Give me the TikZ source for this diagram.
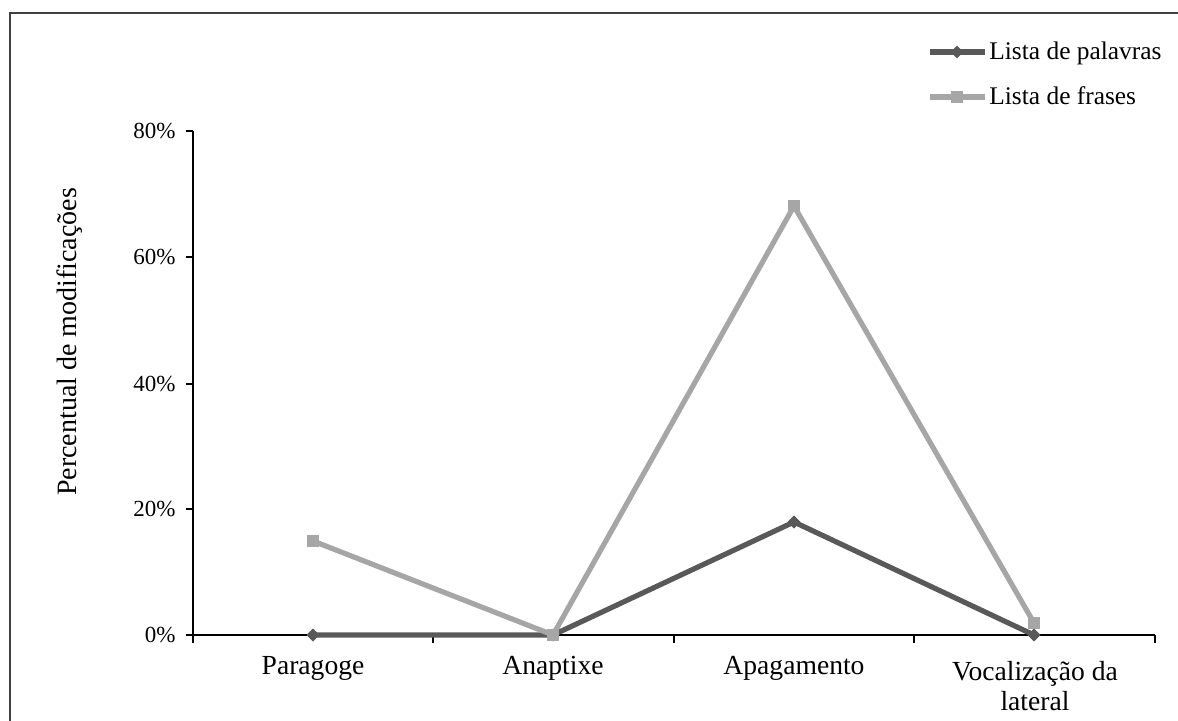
\documentclass[tikz,border=0pt]{standalone}
\usepackage{fontspec}
\setmainfont{Liberation Serif}
\usetikzlibrary{shapes.geometric}
\definecolor{seriedark}{HTML}{595959}
\definecolor{serielight}{HTML}{A6A6A6}
\definecolor{framegray}{HTML}{404040}
\begin{document}
\begin{tikzpicture}[x=0.5pt,y=-0.5pt,
  axisline/.style={line width=0.8pt, black},
  tickline/.style={line width=0.8pt, black},
  serA/.style={line width=2.6pt, seriedark, line join=round},
  serB/.style={line width=2.6pt, serielight, line join=round},
  markA/.style={diamond, fill=seriedark, inner sep=0pt, minimum size=6.5pt},
  markB/.style={rectangle, fill=serielight, inner sep=0pt, minimum size=6pt},
  ticklabel/.style={anchor=east, inner sep=0pt, font=\fontsize{11.5}{13}\selectfont},
  catlabel/.style={align=center, inner sep=0pt, font=\fontsize{13.8}{15}\selectfont},
  legtext/.style={anchor=west, inner sep=0pt, font=\fontsize{12.7}{14}\selectfont}]
\useasboundingbox (0,0) rectangle (1178,721);
% outer chart frame
\draw[framegray, line width=1pt] (10,730) -- (10,13) -- (1190,13);

% axes
\coordinate (o) at (193,635);
\coordinate (ytop) at (193,131);
\coordinate (xend) at (1155,635);
\draw[axisline] (ytop) -- (o) -- (xend);
% y ticks and labels
\foreach \v/\y in {0/635,20/509,40/384,60/257,80/131}{
  \draw[tickline] (186,\y) -- (193,\y);
  \node[ticklabel] (yl\v) at (176,\y) {\v\%};
}
% x ticks
\foreach \x in {193,433,674,914,1155}{
  \draw[tickline] (\x,635) -- (\x,643);
}
% category labels
\node[catlabel] (c1) at (313,668) {Paragoge};
\node[catlabel] (c2) at (553,668) {Anaptixe};
\node[catlabel] (c3) at (794,668) {Apagamento};
\node[catlabel] (c4) at (1035,686) {Vocalização da\\lateral};

% axis title
\node[rotate=90, inner sep=0pt, font=\fontsize{14}{16}\selectfont] (ytitle) at (70,342) {Percentual de modificações};

% Lista de palavras
\node[markA] (a1) at (313,635) {};
\node[markA] (a2) at (553,635) {};
\node[markA] (a3) at (794,522) {};
\node[markA] (a4) at (1034,635) {};
\draw[serA] (a1.center) -- (a2.center) -- (a3.center) -- (a4.center);
\foreach \n in {a1,a2,a3,a4} \node[markA] at (\n) {};

% Lista de frases
\node[markB] (b1) at (313,541) {};
\node[markB] (b2) at (553,635) {};
\node[markB] (b3) at (794,206) {};
\node[markB] (b4) at (1034,623) {};
\draw[serB] (b1.center) -- (b2.center) -- (b3.center) -- (b4.center);
\foreach \n in {b1,b2,b3,b4} \node[markB] at (\n) {};

% legend
\coordinate (la0) at (930,52);
\coordinate (la1) at (985,52);
\draw[serA] (la0) -- (la1);
\node[markA] (lma) at (957,52) {};
\node[legtext] (lta) at (989,53) {Lista de palavras};
\coordinate (lb0) at (930,97);
\coordinate (lb1) at (985,97);
\draw[serB] (lb0) -- (lb1);
\node[markB] (lmb) at (957,97) {};
\node[legtext] (ltb) at (989,96) {Lista de frases};
\end{tikzpicture}
\end{document}
